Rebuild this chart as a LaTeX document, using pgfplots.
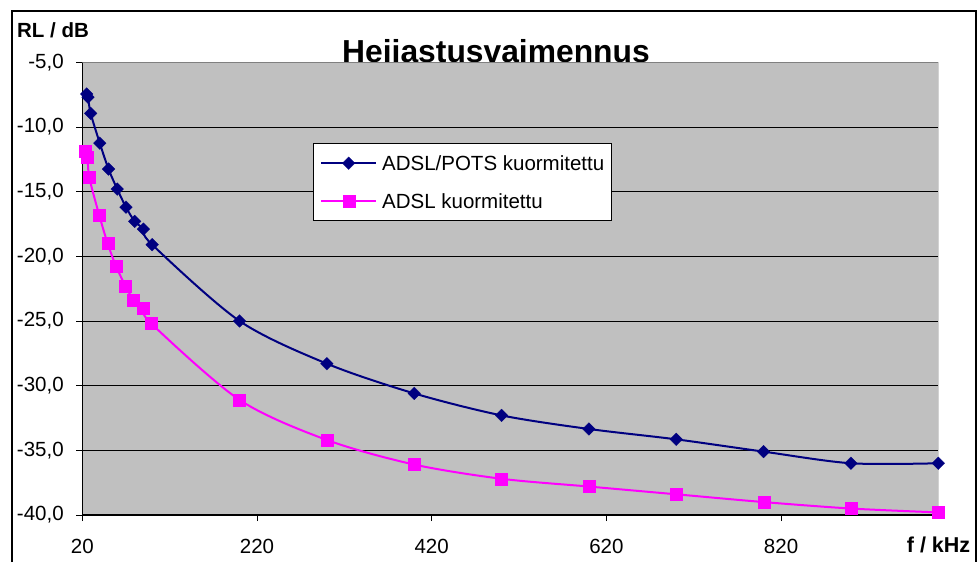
\documentclass[border=0pt]{standalone}
\usepackage{pgfplots}
\pgfplotsset{compat=1.18}
\usepackage{fontspec}
\setmainfont{Liberation Sans}
\pgfdeclarelayer{background}
\pgfsetlayers{background,main}
\definecolor{navyline}{RGB}{0,0,128}
\definecolor{magline}{RGB}{255,0,255}
\definecolor{plotgray}{RGB}{192,192,192}
\definecolor{bordergray}{RGB}{128,128,128}

\begin{document}
\begin{tikzpicture}[x=1pt,y=1pt]
\begin{axis}[
  scale only axis, width=856pt, height=452.7pt,
  xmin=20, xmax=1000, ymin=-40, ymax=-5,
  xtick={20,220,420,620,820},
  ytick={-40,-35,...,-5},
  axis x line*=bottom, axis y line*=left,
  axis line style={black, line width=1.2pt, -},
  axis background/.style={fill=plotgray},
  ymajorgrids, major grid style={black, line width=0.9pt},
  tick align=outside, major tick length=6pt,
  tick style={black, line width=0.9pt},
  /pgf/number format/assume math mode=true,
  yticklabel style={/pgf/number format/.cd, fixed, fixed zerofill, precision=1, use comma,
    /tikz/.cd, anchor=east, inner sep=0pt, xshift=-12.4pt},
  xticklabel style={/pgf/number format/.cd, fixed, precision=0, 1000 sep={},
    /tikz/.cd, anchor=north, inner sep=0pt, yshift=-17.5pt},
  ticklabel style={font=\fontsize{20.5}{24}\selectfont},
  xlabel={f / kHz}, ylabel={RL / dB},
  every axis x label/.style={at={(axis description cs:0.9631,-0.0833)}, anchor=base west, font=\fontsize{21.5}{24}\selectfont\bfseries, inner sep=0pt},
  every axis y label/.style={at={(axis description cs:-0.0763,1.0552)}, anchor=base west, font=\fontsize{20.5}{24}\selectfont\bfseries, inner sep=0pt},
  legend style={at={(0.2692,0.821)}, anchor=north west, draw=black, line width=0.8pt, fill=white,
    font=\fontsize{20.5}{24}\selectfont, inner xsep=7pt, inner ysep=9pt,
    row sep=16.7pt, column sep=5pt,
    nodes={inner sep=0pt, text height=18pt, text depth=3pt}},
  legend cell align=left,
  legend image code/.code={\draw[mark repeat=2,mark phase=2,#1] plot coordinates {(0pt,0pt) (27.5pt,0pt) (55pt,0pt)};},
]
\coordinate (plotSW) at (rel axis cs:0,0);
\addplot[navyline, line width=2pt, smooth, mark=square*, mark size=4.5pt,
  mark options={rotate=45, fill=navyline, draw=navyline, line width=0.2pt}] coordinates {
  (25,-7.45) (26.5,-7.7) (29.6,-8.95) (40,-11.25) (50,-13.25) (60,-14.8)
  (70,-16.2) (80,-17.3) (90,-17.9) (100,-19.1) (200,-25.0) (300,-28.3)
  (400,-30.6) (500,-32.3) (600,-33.35) (700,-34.15) (800,-35.1) (900,-36.0) (1000,-36.0)
};
\addlegendentry{ADSL/POTS kuormitettu}
\addplot[magline, line width=2pt, smooth, mark=square*, mark size=6pt,
  mark options={fill=magline, draw=magline, line width=0.2pt}] coordinates {
  (23.5,-11.9) (26,-12.35) (28,-13.9) (39.5,-16.85) (49,-19.0) (58.5,-20.75)
  (69.5,-22.3) (78.5,-23.35) (90,-24.0) (99,-25.2) (200,-31.1) (300,-34.2)
  (400,-36.1) (500,-37.2) (600,-37.8) (700,-38.4) (800,-39.0) (900,-39.5) (1000,-39.8)
};
\addlegendentry{ADSL kuormitettu}
% plot area border on the top and right
\draw[bordergray, line width=1.2pt] (rel axis cs:0,1) -- (rel axis cs:1,1) -- (rel axis cs:1,0);
\end{axis}
% page: the plot area's lower left corner lies at (82.3,47)
\begin{scope}[shift={(plotSW)}, xshift=-82.3pt, yshift=-47pt]
  \begin{pgfonlayer}{background}
    \fill[white] (0,0) rectangle (980,562);
    % title sits behind the plot area
    \node[font=\fontsize{31.8}{36}\selectfont\bfseries, anchor=base, inner sep=0pt] at (496,499.3) {Heijastusvaimennus};
  \end{pgfonlayer}
  % chart frame, open at the bottom edge of the page
  \draw[line width=2pt] (12,0) -- (12,551) -- (976,551) -- (976,0);
\end{scope}
\end{tikzpicture}
\end{document}
